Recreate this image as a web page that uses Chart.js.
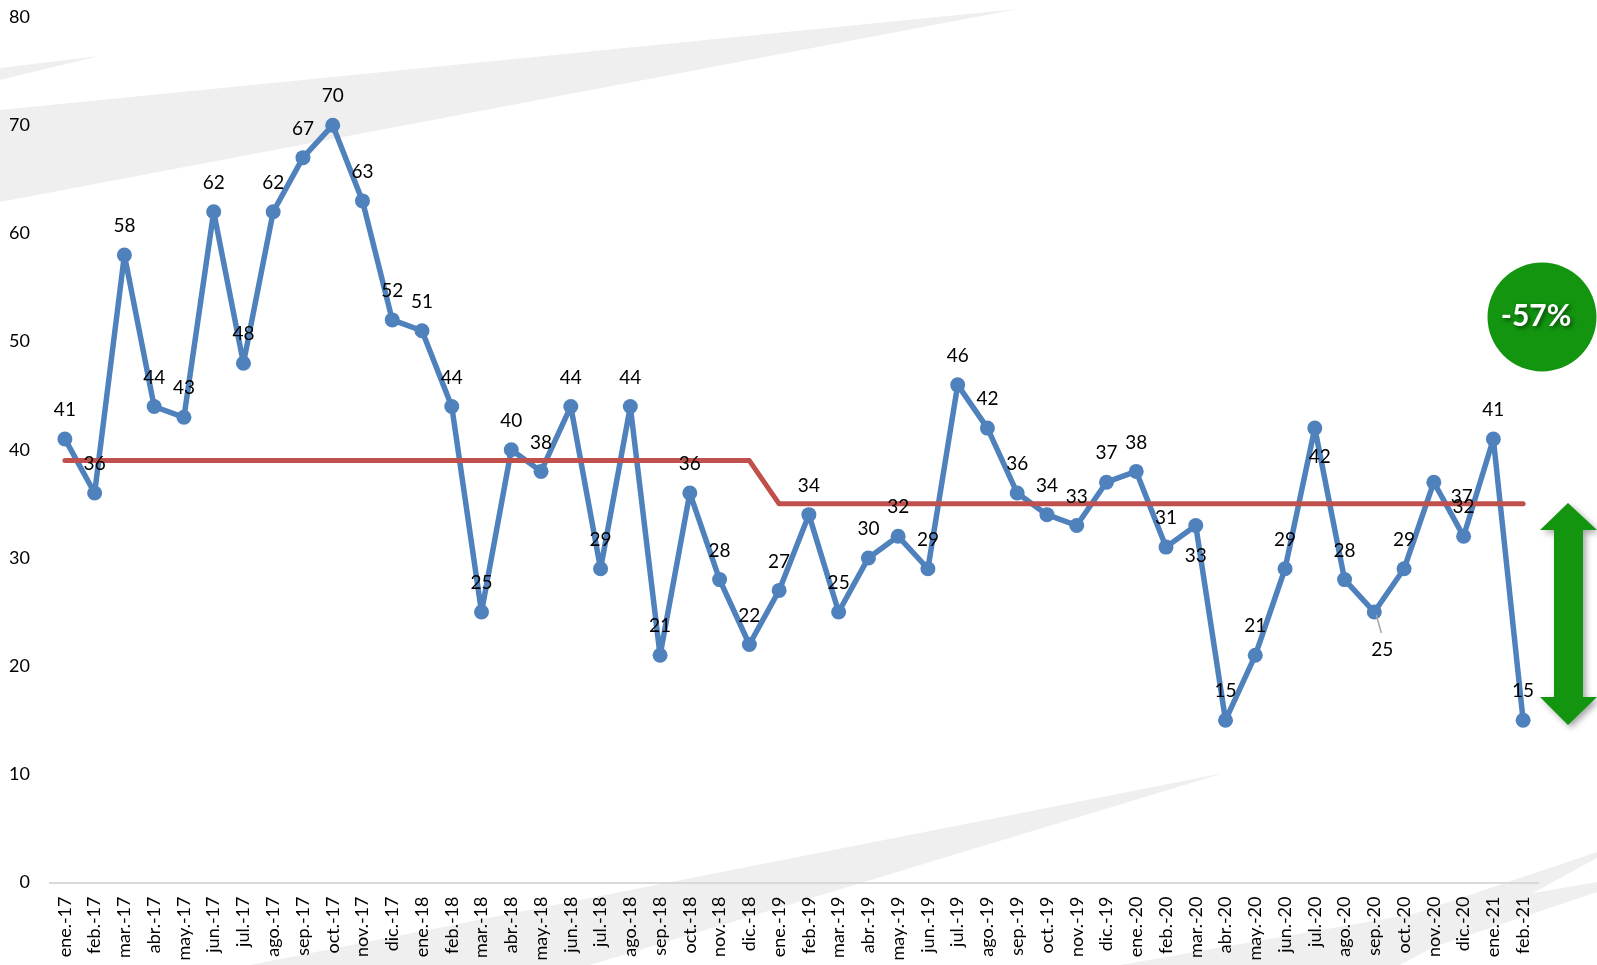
<!DOCTYPE html>
<html>
<head>
<meta charset="utf-8">
<script src="https://cdn.jsdelivr.net/npm/chart.js@4.4.1/dist/chart.umd.min.js"></script>
<style>
html,body{margin:0;padding:0;background:#fff;overflow:hidden;}
#wrap{position:relative;width:1597px;height:965px;}
</style>
</head>
<body>
<div id="wrap"><canvas id="c"></canvas></div>
<script>
const months = ["ene.-17","feb.-17","mar.-17","abr.-17","may.-17","jun.-17","jul.-17","ago.-17","sep.-17","oct.-17","nov.-17","dic.-17",
"ene.-18","feb.-18","mar.-18","abr.-18","may.-18","jun.-18","jul.-18","ago.-18","sep.-18","oct.-18","nov.-18","dic.-18",
"ene.-19","feb.-19","mar.-19","abr.-19","may.-19","jun.-19","jul.-19","ago.-19","sep.-19","oct.-19","nov.-19","dic.-19",
"ene.-20","feb.-20","mar.-20","abr.-20","may.-20","jun.-20","jul.-20","ago.-20","sep.-20","oct.-20","nov.-20","dic.-20",
"ene.-21","feb.-21"];
const actual = [41,36,58,44,43,62,48,62,67,70,63,52,
51,44,25,40,38,44,29,44,21,36,28,22,
27,34,25,30,32,29,46,42,36,34,33,37,
38,31,33,15,21,29,42,28,25,29,37,32,
41,15];
const target = [39,39,39,39,39,39,39,39,39,39,39,39,
39,39,39,39,39,39,39,39,39,39,39,39,
35,35,35,35,35,35,35,35,35,35,35,35,
35,35,35,35,35,35,35,35,35,35,35,35,
35,35];
const yTicks = [0,10,20,30,40,50,60,70,80];
const badgeText = "-57%";

const FONT = "Lato, 'Open Sans', sans-serif";
const BLUE = "#4f81bd", RED = "#c0504d", GREEN = "#139510";

// label placement overrides: index -> [dx, dy, leader]
const labelShift = {38:[0,30], 42:[5,29], 44:[8,38,true], 46:[28,15]};

const decorPlugin = {
  id:'decor',
  beforeDraw(chart){
    const ctx = chart.ctx;
    ctx.save();
    ctx.fillStyle = '#fff';
    ctx.fillRect(0,0,chart.width,chart.height);
    ctx.fillStyle = '#efefef';
    const polys = [
      [[0,68],[99,56],[0,80]],
      [[0,110],[1018,9],[0,202]],
      [[1224,773],[250,965],[590,965]],
      [[1597,852],[1597,858],[1400,965],[1262,965]],
      [[1597,882],[1597,892],[1380,965],[1120,965]]
    ];
    for(const p of polys){
      ctx.beginPath();
      ctx.moveTo(p[0][0],p[0][1]);
      for(let i=1;i<p.length;i++) ctx.lineTo(p[i][0],p[i][1]);
      ctx.closePath();
      ctx.fill();
    }
    ctx.restore();
  },
  afterDraw(chart){
    const ctx = chart.ctx;
    ctx.save();
    ctx.fillStyle = GREEN;
    ctx.beginPath();
    ctx.arc(1542,317,54.5,0,Math.PI*2);
    ctx.fill();
    ctx.font = "bold 30px " + FONT;
    ctx.textAlign='center'; ctx.textBaseline='middle';
    ctx.shadowColor='rgba(0,0,0,0.55)'; ctx.shadowBlur=4; ctx.shadowOffsetX=2; ctx.shadowOffsetY=2;
    ctx.fillStyle='#fff';
    ctx.fillText(badgeText,1536,316);
    ctx.restore();
    ctx.save();
    ctx.shadowColor='rgba(0,0,0,0.35)'; ctx.shadowBlur=6; ctx.shadowOffsetX=3; ctx.shadowOffsetY=3;
    ctx.fillStyle=GREEN;
    ctx.beginPath();
    ctx.moveTo(1568,503);
    ctx.lineTo(1597,530);
    ctx.lineTo(1583,530);
    ctx.lineTo(1583,697);
    ctx.lineTo(1597,697);
    ctx.lineTo(1568,725);
    ctx.lineTo(1540,697);
    ctx.lineTo(1554,697);
    ctx.lineTo(1554,530);
    ctx.lineTo(1540,530);
    ctx.closePath();
    ctx.fill();
    ctx.restore();
  },
  afterDatasetsDraw(chart){
    const ctx = chart.ctx;
    const meta = chart.getDatasetMeta(1);
    ctx.save();
    ctx.font = "19px " + FONT;
    ctx.fillStyle = '#000';
    ctx.textAlign='center'; ctx.textBaseline='middle';
    meta.data.forEach((pt,i)=>{
      const s = labelShift[i] || [0,-29];
      const x = pt.x + s[0], y = pt.y + s[1];
      if(s[2]){
        ctx.save();
        ctx.strokeStyle='#a6a6a6'; ctx.lineWidth=1.5;
        ctx.beginPath(); ctx.moveTo(pt.x+2,pt.y+3); ctx.lineTo(pt.x+7,pt.y+21); ctx.stroke();
        ctx.restore();
      }
      ctx.fillText(String(actual[i]), x, y);
    });
    ctx.restore();
  }
};

new Chart(document.getElementById('c'),{
  type:'line',
  data:{
    labels: months,
    datasets:[
      {label:'Meta', data: target, borderColor: RED, borderWidth:5, pointRadius:0, pointHoverRadius:0,
       borderCapStyle:'round', borderJoinStyle:'round', fill:false, tension:0},
      {label:'Real', data: actual, borderColor: BLUE, backgroundColor: BLUE, borderWidth:5.5,
       pointRadius:7.5, pointBackgroundColor: BLUE, pointBorderColor: BLUE, pointBorderWidth:0,
       borderJoinStyle:'round', borderCapStyle:'round', fill:false, tension:0}
    ]
  },
  options:{
    responsive:true, maintainAspectRatio:false, animation:false,
    layout:{autoPadding:false, padding:{top:17,left:0,right:59,bottom:0}},
    plugins:{legend:{display:false}, tooltip:{enabled:false}},
    scales:{
      x:{
        type:'category', offset:true,
        grid:{display:false, drawTicks:false},
        border:{display:true, color:'#d9d9d9', width:2},
        ticks:{minRotation:90, maxRotation:90, autoSkip:false, padding:14, color:'#000',
               font:{family:FONT, size:18}},
        afterFit(axis){ axis.height = 82.5; axis.paddingLeft = 0; axis.paddingRight = 0; }
      },
      y:{
        min:0, max:80,
        grid:{display:false, drawTicks:false},
        border:{display:false},
        afterBuildTicks(axis){ axis.ticks = yTicks.map(v=>({value:v})); },
        ticks:{padding:20, color:'#000', font:{family:FONT, size:18}},
        afterFit(axis){ axis.width = 50; axis.paddingTop = 0; axis.paddingBottom = 0; }
      }
    }
  },
  plugins:[decorPlugin]
});
</script>
</body>
</html>
